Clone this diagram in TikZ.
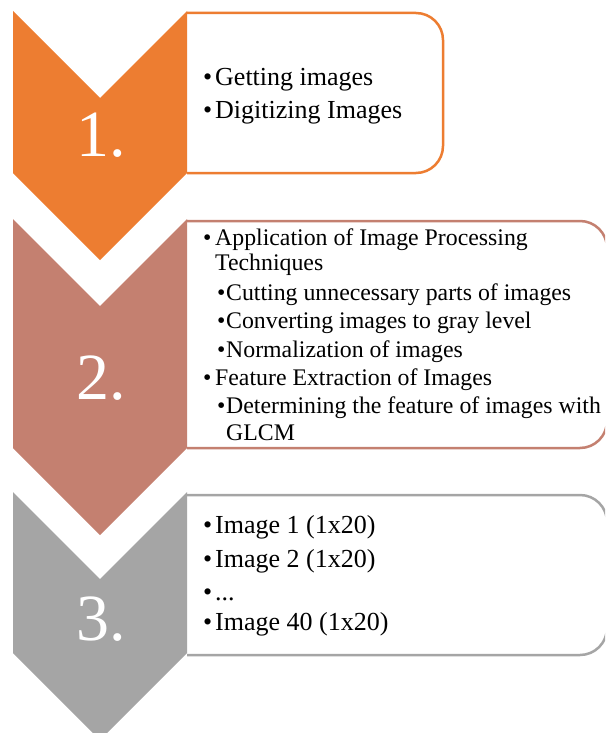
\documentclass[tikz,border=0pt]{standalone}
\usepackage{fontspec}
\setmainfont{Liberation Serif}
\definecolor{stepone}{HTML}{ED7D31}
\definecolor{steptwo}{HTML}{C48070}
\definecolor{stepthree}{HTML}{A5A5A5}
\tikzset{
  chev/.style={fill=#1},
  panel/.style={draw=#1, fill=white, line width=2.5pt, rounded corners=27pt},
  num/.style={text=white, anchor=base, inner sep=0pt, font=\fontsize{66}{66}\selectfont},
  itm/.style={anchor=base west, inner sep=0pt, font=\fontsize{#1}{#1}\selectfont},
}
% chevron: colour, top, bottom of the sides
\newcommand{\chevron}[3]{\fill[chev=#1] (13,#2) -- (100,#2+87) -- (187,#2)
  -- (187,#3) -- (100,#3+87) -- (13,#3) -- cycle;}
\newcommand{\mainb}{\makebox[12pt][l]{\textbullet}}
\newcommand{\subb}{\makebox[9pt][l]{\textbullet}}
\begin{document}
\begin{tikzpicture}[x=1pt,y=-1pt]
\useasboundingbox (0,0) rectangle (605,733);
\clip (0,0) rectangle (605,733);
% step 1
\draw[panel=stepone] (187,13) -- (443,13) -- (443,173) -- (187,173);
\chevron{stepone}{11}{173}
\node[num] (n1) at (101,157) {1.};
\node[itm=26] (g1) at (203,86) {\mainb Getting images};
\node[itm=26] (g2) at (203,118) {\mainb Digitizing Images};
% step 2
\draw[panel=steptwo] (187,221) -- (607,221) -- (607,448) -- (187,448);
\chevron{steptwo}{219}{448}
\node[num] (n2) at (101,399) {2.};
\node[itm=23.8] (p1) at (203,245) {\mainb Application of Image Processing};
\node[itm=23.8] (p2) at (215,270) {Techniques};
\node[itm=23.8] (p3) at (217,300) {\subb Cutting unnecessary parts of images};
\node[itm=23.8] (p4) at (217,328) {\subb Converting images to gray level};
\node[itm=23.8] (p5) at (217,357) {\subb Normalization of images};
\node[itm=23.8] (p6) at (203,385) {\mainb Feature Extraction of Images};
\node[itm=23.8] (p7) at (217,413) {\subb Determining the feature of images with};
\node[itm=23.8] (p8) at (226,440) {GLCM};
% step 3
\draw[panel=stepthree] (187,495) -- (607,495) -- (607,655) -- (187,655);
\chevron{stepthree}{492}{653}
\node[num] (n3) at (101,640) {3.};
\node[itm=26] (i1) at (203,533) {\mainb Image 1 (1x20)};
\node[itm=26] (i2) at (203,567) {\mainb Image 2 (1x20)};
\node[itm=26] (i3) at (203,600) {\mainb ...};
\node[itm=26] (i4) at (203,630) {\mainb Image 40 (1x20)};
\end{tikzpicture}
\end{document}
